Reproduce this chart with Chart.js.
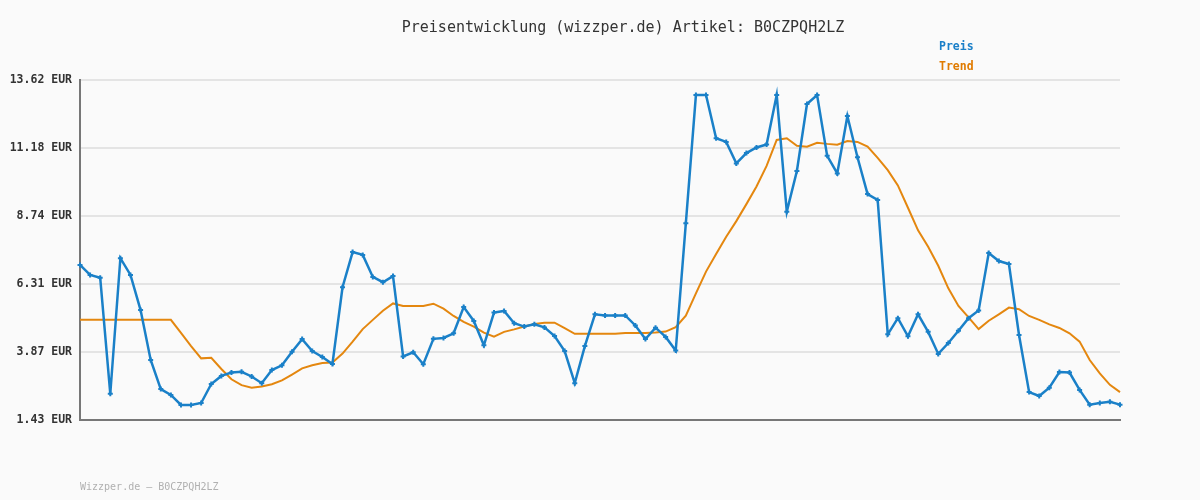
<!DOCTYPE html>
<html>
<head>
<meta charset="utf-8">
<script src="https://cdn.jsdelivr.net/npm/chart.js@4.4.1/dist/chart.umd.min.js"></script>
<style>
    html, body { margin: 0; padding: 0; background: #fafafa; }
    canvas { display: block; }
</style>
</head>
<body>
<canvas id="preis-chart" width="1200" height="500"></canvas>
<script>
// Preisverlauf (EUR)
const preis = [
    6.99, 6.63, 6.53, 2.37, 7.23, 6.63, 5.37, 3.58, 2.54, 2.33,
    1.97, 1.97, 2.04, 2.72, 3.01, 3.13, 3.16, 2.99, 2.75, 3.22,
    3.39, 3.88, 4.33, 3.90, 3.69, 3.44, 6.19, 7.45, 7.35, 6.56,
    6.37, 6.59, 3.71, 3.86, 3.43, 4.34, 4.37, 4.54, 5.48, 4.98,
    4.11, 5.28, 5.34, 4.90, 4.78, 4.86, 4.75, 4.44, 3.90, 2.75,
    4.08, 5.22, 5.18, 5.18, 5.18, 4.82, 4.33, 4.74, 4.41, 3.92,
    8.48, 13.08, 13.08, 11.53, 11.40, 10.63, 11.00, 11.20, 11.31, 13.08,
    8.90, 10.36, 12.76, 13.08, 10.90, 10.27, 12.33, 10.85, 9.53, 9.32,
    4.50, 5.08, 4.43, 5.22, 4.59, 3.80, 4.19, 4.63, 5.08, 5.36,
    7.42, 7.13, 7.02, 4.48, 2.43, 2.29, 2.59, 3.15, 3.13, 2.51,
    1.98, 2.04, 2.08, 1.98
];

// Trendlinie (EUR)
const trend = [
    5.02, 5.02, 5.02, 5.02, 5.02, 5.02, 5.02, 5.02, 5.02, 5.02,
    4.55, 4.08, 3.64, 3.66, 3.26, 2.89, 2.68, 2.59, 2.63, 2.71,
    2.85, 3.06, 3.28, 3.39, 3.47, 3.49, 3.81, 4.24, 4.69, 5.02,
    5.35, 5.61, 5.52, 5.52, 5.52, 5.60, 5.42, 5.16, 4.95, 4.78,
    4.56, 4.42, 4.59, 4.68, 4.78, 4.87, 4.92, 4.92, 4.72, 4.52,
    4.52, 4.52, 4.52, 4.52, 4.55, 4.55, 4.55, 4.57, 4.60, 4.76,
    5.17, 5.97, 6.75, 7.38, 8.00, 8.56, 9.17, 9.80, 10.54, 11.47,
    11.53, 11.26, 11.23, 11.37, 11.33, 11.30, 11.43, 11.40, 11.23, 10.83,
    10.39, 9.84, 9.04, 8.23, 7.64, 6.96, 6.15, 5.52, 5.11, 4.69,
    4.99, 5.22, 5.46, 5.40, 5.16, 5.02, 4.86, 4.73, 4.54, 4.24,
    3.58, 3.10, 2.69, 2.43
];

const yTicks = [1.43, 3.87, 6.31, 8.74, 11.18, 13.62];
const labels = preis.map((_, i) => i + 1);

const titleText = 'Preisentwicklung (wizzper.de) Artikel: B0CZPQH2LZ';
const footerText = 'Wizzper.de \u2013 B0CZPQH2LZ';
const MONO = "'DejaVu Sans Mono', monospace";

const textPlugin = {
    id: 'texte',
    afterDraw(chart) {
        const ctx = chart.ctx;
        ctx.save();
        ctx.textBaseline = 'middle';

        ctx.font = `15px ${MONO}`;
        ctx.fillStyle = '#333';
        ctx.textAlign = 'center';
        ctx.fillText(titleText, 623, 28);

        ctx.textAlign = 'left';
        ctx.font = `bold 11.5px ${MONO}`;
        ctx.fillStyle = '#1a7fc8';
        ctx.fillText('Preis', 939, 47);
        ctx.fillStyle = '#e07b00';
        ctx.fillText('Trend', 939, 67);

        ctx.font = `10px ${MONO}`;
        ctx.fillStyle = '#b0b0b0';
        ctx.fillText(footerText, 80, 487);
        ctx.restore();
    }
};

const ctx = document.getElementById('preis-chart').getContext('2d');

new Chart(ctx, {
    type: 'line',
    data: {
        labels,
        datasets: [
            {
                label: 'Trend',
                data: trend,
                borderColor: '#e4870f',
                borderWidth: 2,
                pointRadius: 0,
                tension: 0,
                clip: false,
                order: 2,
            },
            {
                label: 'Preis',
                data: preis,
                borderColor: '#1a80c8',
                backgroundColor: '#1a80c8',
                borderWidth: 2.5,
                pointStyle: 'cross',
                pointRadius: 2.5,
                pointBorderWidth: 2,
                tension: 0,
                clip: false,
                order: 1,
            },
        ]
    },
    options: {
        responsive: false,
        animation: false,
        layout: { padding: { top: 80, right: 80, bottom: 80, left: 0 } },
        plugins: {
            legend: { display: false },
            title: { display: false },
            tooltip: { enabled: false },
        },
        scales: {
            x: {
                type: 'category',
                offset: false,
                grid: { display: false },
                ticks: { display: false },
                border: { color: '#777', width: 2 },
                afterFit: s => { s.height = 0; },
            },
            y: {
                min: 1.43,
                max: 13.62,
                afterBuildTicks: s => { s.ticks = yTicks.map(v => ({ value: v })); },
                afterFit: s => { s.width = 80; },
                grid: { color: '#e4e4e4', lineWidth: 2, drawTicks: false },
                border: { color: '#777', width: 2 },
                ticks: {
                    padding: 8,
                    color: '#333',
                    font: { family: MONO, size: 11.5, weight: 'bold' },
                    callback: v => v.toFixed(2) + ' EUR',
                },
            },
        },
    },
    plugins: [textPlugin],
});
</script>
</body>
</html>
